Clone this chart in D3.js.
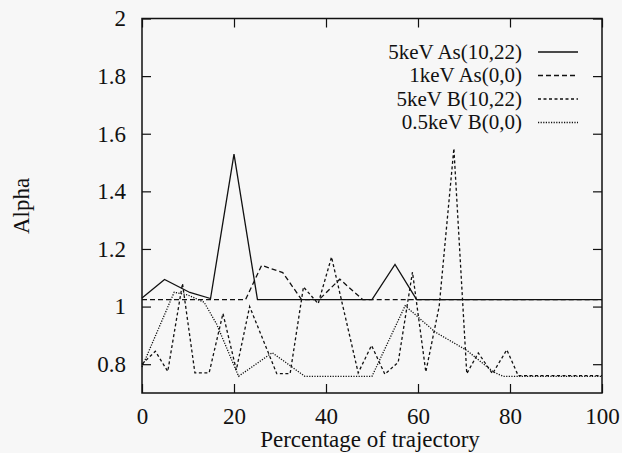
<!DOCTYPE html>
<html>
<head>
<meta charset="utf-8">
<script src="https://cdn.jsdelivr.net/npm/d3@7"></script>
<style>
  html, body { margin: 0; padding: 0; background: #f7f7f7; }
  svg { display: block; }
</style>
</head>
<body>
<svg id="chart" width="622" height="453"></svg>
<script>
// values: [percentage, alpha]
const AS_5KEV = [[0, 1.03], [4.9, 1.094], [10.4, 1.049], [14.9, 1.028], [20, 1.529], [25.1, 1.024],
    [50, 1.024], [55, 1.146], [59.7, 1.024], [100, 1.024]];
const AS_1KEV = [[0, 1.024], [22.5, 1.024], [26, 1.143], [30.6, 1.118], [34.7, 1.024], [38.5, 1.024],
    [43, 1.095], [48, 1.024], [100, 1.024]];
const B_5KEV = [[0, 0.80], [2.9, 0.845], [5.6, 0.775], [8.8, 1.08], [11.5, 0.77], [14.6, 0.77],
    [17.6, 0.976], [20.5, 0.78], [23.4, 1.0], [29.3, 0.767], [32.2, 0.767], [35.1, 1.068],
    [38.3, 1.01], [41.2, 1.172], [47, 0.77], [49.9, 0.865], [52.8, 0.765], [55.7, 0.807],
    [58.8, 1.12], [61.7, 0.773], [64.6, 1.0], [67.8, 1.549], [70.6, 0.767], [73.1, 0.839],
    [76.2, 0.767], [79.3, 0.85], [81.8, 0.76], [100, 0.76]];
const B_05KEV = [[0, 0.79], [7, 1.05], [10, 1.04], [13.5, 1.015], [16.2, 0.94], [21, 0.758],
    [28.3, 0.84], [35.4, 0.758], [50, 0.758], [57.2, 1.003], [63.7, 0.912], [70.6, 0.848],
    [76.4, 0.773], [78.5, 0.758], [100, 0.758]];

const SERIES_NAMES = ['5keV As(10,22)', '1keV As(0,0)', '5keV B(10,22)', '0.5keV B(0,0)'];
const X_TICKS = [0, 20, 40, 60, 80, 100];
const Y_TICKS = [0.8, 1, 1.2, 1.4, 1.6, 1.8, 2];

const DASHES = [null, '5,3', '3,2.5', '1.2,1.4'];
const FONT = '"Liberation Serif", "Times New Roman", Times, serif';

const margin = {left: 142, top: 18.5, right: 20, bottom: 60};
const W = 622, H = 453;

const svg = d3.select('#chart')
    .attr('font-family', FONT);

const x = d3.scaleLinear().domain([0, 100]).range([margin.left, W - margin.right]);
const y = d3.scaleLinear().domain([0.7, 2]).range([H - margin.bottom, margin.top]);

const fmt = d3.format('~g');

// axes, ticks point inwards and are mirrored
function style_axis(g) {
    g.attr('font-family', FONT);
    g.select('.domain').remove();
    g.selectAll('.tick line').attr('stroke', '#111').attr('stroke-width', 1.2);
    g.selectAll('.tick text').attr('font-size', 23).attr('fill', '#111');
}

svg.append('g')
    .attr('transform', `translate(0,${y(0.7)})`)
    .call(d3.axisBottom(x).tickValues(X_TICKS).tickFormat(fmt)
        .tickSizeInner(-9).tickSizeOuter(0).tickPadding(15))
    .call(style_axis);
svg.append('g')
    .attr('transform', `translate(0,${y(2)})`)
    .call(d3.axisTop(x).tickValues(X_TICKS).tickFormat('')
        .tickSizeInner(-9).tickSizeOuter(0))
    .call(style_axis);
svg.append('g')
    .attr('transform', `translate(${x(0)},0)`)
    .call(d3.axisLeft(y).tickValues(Y_TICKS).tickFormat(fmt)
        .tickSizeInner(-9).tickSizeOuter(0).tickPadding(16))
    .call(style_axis);
svg.append('g')
    .attr('transform', `translate(${x(100)},0)`)
    .call(d3.axisRight(y).tickValues(Y_TICKS).tickFormat('')
        .tickSizeInner(-9).tickSizeOuter(0))
    .call(style_axis);

// frame
svg.append('rect')
    .attr('x', x(0)).attr('y', y(2))
    .attr('width', x(100) - x(0)).attr('height', y(0.7) - y(2))
    .attr('fill', 'none').attr('stroke', '#111').attr('stroke-width', 1.5);

// axis titles
svg.append('text')
    .attr('x', 370).attr('y', 447)
    .attr('text-anchor', 'middle').attr('font-size', 23).attr('fill', '#111')
    .text('Percentage of trajectory');
svg.append('text')
    .attr('transform', 'translate(29,206) rotate(-90)')
    .attr('text-anchor', 'middle').attr('font-size', 23).attr('fill', '#111')
    .text('Alpha');

// lines
const line = d3.line().x(d => x(d[0])).y(d => y(d[1]));
const all = [AS_5KEV, AS_1KEV, B_5KEV, B_05KEV];

all.forEach((data, i) => {
    svg.append('path')
        .datum(data)
        .attr('d', line)
        .attr('fill', 'none')
        .attr('stroke', '#111')
        .attr('stroke-width', 1.3)
        .attr('stroke-dasharray', DASHES[i]);
});

// legend
const legend = svg.append('g');
SERIES_NAMES.forEach((name, i) => {
    const ly = 52 + i * 23.5;
    legend.append('text')
        .attr('x', 522).attr('y', ly)
        .attr('dy', '0.33em')
        .attr('text-anchor', 'end').attr('font-size', 21).attr('fill', '#111')
        .text(name);
    legend.append('line')
        .attr('x1', 538).attr('x2', 578)
        .attr('y1', ly).attr('y2', ly)
        .attr('stroke', '#111').attr('stroke-width', 1.3)
        .attr('stroke-dasharray', DASHES[i]);
});
</script>
</body>
</html>
